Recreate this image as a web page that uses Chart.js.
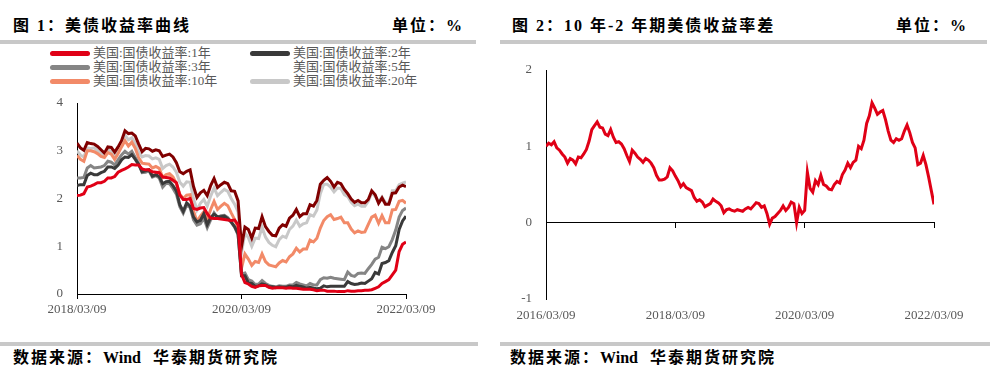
<!DOCTYPE html>
<html>
<head>
<meta charset="utf-8">
<script src="https://cdn.jsdelivr.net/npm/chart.js@4.4.0/dist/chart.umd.min.js"></script>
<style>
  body { margin: 0; background: #fff; width: 995px; height: 376px; position: relative; overflow: hidden;
         font-family: "Liberation Serif", "Noto Sans CJK SC", serif; }
  .title { position: absolute; top: 16px; line-height: 20px; font-size: 16px; font-weight: 600; color: #000; letter-spacing: 2px; white-space: nowrap; }
  .foot { position: absolute; top: 348px; line-height: 20px; font-size: 16px; font-weight: 600; color: #000; letter-spacing: 2px; white-space: nowrap; }
  .foot span { letter-spacing: 0; }
  .bar { position: absolute; height: 4px; background: #c8c8c8; }
  .leg { position: absolute; font-size: 13px; line-height: 14px; color: #595959; white-space: nowrap; }
  .sw { position: absolute; width: 40px; height: 5px; border-radius: 3px; }
  canvas { position: absolute; }
</style>
</head>
<body>
<div class="title" style="left:13px">图 1：美债收益率曲线</div>
<div class="title" style="left:392px">单位：%</div>
<div class="bar" style="left:0;top:40px;width:476px"></div>
<div id="legend1"></div>
<canvas id="yieldChart" width="480" height="240" style="left:0;top:90px"></canvas>
<div class="bar" style="left:0;top:342px;width:478px"></div>
<div class="foot" style="left:13px">数据来源：<span>Wind</span>&nbsp;&nbsp;华泰期货研究院</div>

<div class="title" style="left:512px">图 2：10 年-2 年期美债收益率差</div>
<div class="title" style="left:896px">单位：%</div>
<div class="bar" style="left:500px;top:40px;width:487px"></div>
<canvas id="spreadChart" width="495" height="275" style="left:500px;top:55px"></canvas>
<div class="bar" style="left:500px;top:342px;width:490px"></div>
<div class="foot" style="left:510px">数据来源：<span>Wind</span>&nbsp;&nbsp;华泰期货研究院</div>

<script>
// half-month dates, 09 and 24 of every month
function halfMonthDates(year, month, count) {
    let out = [];
    for (let k = 0; k < count; k++) {
        let m = month - 1 + Math.floor(k / 2);
        let yy = year + Math.floor(m / 12);
        let mm = m % 12 + 1;
        out.push(yy + "/" + String(mm).padStart(2, "0") + "/" + (k % 2 ? "24" : "09"));
    }
    return out;
}

const yieldDates = halfMonthDates(2018, 3, 97);
const spreadDates = halfMonthDates(2016, 3, 145);
const yieldTickLabels = ["2018/03/09", "2020/03/09", "2022/03/09"];
const spreadTickLabels = ["2016/03/09", "2018/03/09", "2020/03/09", "2022/03/09"];

// US treasury yields, %
const yield1Y = [2.06,2.07,2.10,2.24,2.26,2.29,2.33,2.33,2.36,2.43,2.43,2.46,2.55,2.59,2.62,2.66,2.71,2.70,2.70,2.62,
    2.60,2.60,2.56,2.55,2.54,2.45,2.44,2.43,2.38,2.33,2.07,1.98,1.98,2.00,1.79,1.77,1.80,1.81,1.68,1.59,1.58,1.58,1.57,1.56,
    1.55,1.54,1.55,1.45,0.41,0.24,0.21,0.16,0.14,0.17,0.18,0.18,0.14,0.12,0.13,0.13,0.13,0.12,0.13,0.12,0.12,0.11,0.10,0.10,
    0.10,0.09,0.07,0.08,0.08,0.06,0.06,0.06,0.05,0.05,0.05,0.07,0.06,0.06,0.07,0.07,0.08,0.08,0.09,0.12,0.15,0.22,0.26,0.30,
    0.40,0.50,0.89,1.04,1.09];
const yield2Y = [2.27,2.29,2.29,2.48,2.53,2.50,2.50,2.54,2.57,2.66,2.66,2.63,2.70,2.81,2.87,2.86,2.92,2.82,2.71,2.56,
    2.58,2.60,2.47,2.50,2.46,2.31,2.35,2.36,2.27,2.16,1.87,1.73,1.91,1.84,1.61,1.51,1.54,1.68,1.45,1.60,1.67,1.62,1.62,1.63,
    1.58,1.51,1.41,1.26,0.38,0.38,0.23,0.22,0.16,0.17,0.21,0.19,0.15,0.15,0.13,0.15,0.14,0.14,0.16,0.15,0.18,0.16,0.15,0.12,
    0.14,0.12,0.11,0.12,0.17,0.15,0.16,0.16,0.16,0.16,0.16,0.26,0.22,0.20,0.21,0.23,0.22,0.27,0.32,0.45,0.42,0.64,0.66,0.70,
    0.87,1.01,1.35,1.53,1.63];
const yield3Y = [2.43,2.43,2.44,2.64,2.69,2.64,2.65,2.66,2.69,2.78,2.76,2.70,2.81,2.91,2.99,2.93,2.99,2.86,2.73,2.54,
    2.55,2.58,2.45,2.48,2.43,2.24,2.32,2.31,2.21,2.09,1.83,1.69,1.86,1.81,1.55,1.44,1.47,1.59,1.39,1.55,1.70,1.60,1.64,1.65,
    1.60,1.50,1.40,1.24,0.42,0.44,0.30,0.27,0.20,0.21,0.28,0.22,0.18,0.16,0.15,0.17,0.16,0.16,0.19,0.19,0.24,0.21,0.19,0.17,
    0.22,0.19,0.19,0.30,0.34,0.33,0.35,0.33,0.32,0.31,0.30,0.46,0.39,0.37,0.43,0.44,0.43,0.53,0.62,0.73,0.77,0.98,0.95,0.99,
    1.14,1.34,1.61,1.75,1.80];
const yield10Y = [2.90,2.82,2.78,3.00,3.00,2.98,2.94,2.88,2.86,2.96,2.93,2.82,2.94,3.08,3.21,3.10,3.18,3.05,2.85,2.74,
    2.73,2.72,2.64,2.67,2.63,2.44,2.50,2.52,2.45,2.32,2.09,2.00,2.07,2.08,1.74,1.52,1.63,1.72,1.56,1.77,1.94,1.77,1.84,1.90,
    1.85,1.70,1.56,1.38,0.54,0.84,0.73,0.60,0.68,0.66,0.84,0.68,0.61,0.59,0.57,0.65,0.70,0.67,0.78,0.84,0.96,0.88,0.94,0.94,
    1.13,1.09,1.17,1.38,1.54,1.62,1.66,1.56,1.58,1.61,1.49,1.49,1.36,1.28,1.32,1.29,1.30,1.46,1.61,1.65,1.48,1.64,1.49,1.49,
    1.76,1.77,1.94,1.96,1.90];
const yield20Y = [3.00,2.91,2.87,3.06,3.05,3.06,3.00,2.94,2.89,3.02,2.98,2.88,3.00,3.15,3.33,3.23,3.27,3.16,2.97,2.87,
    2.90,2.89,2.83,2.85,2.82,2.63,2.69,2.72,2.66,2.55,2.34,2.26,2.35,2.34,2.00,1.76,1.90,1.98,1.84,2.05,2.22,2.06,2.13,2.19,
    2.15,2.00,1.88,1.72,0.87,1.28,1.18,1.00,1.17,1.16,1.40,1.19,1.08,1.02,0.99,1.14,1.21,1.18,1.35,1.42,1.55,1.42,1.47,1.49,
    1.66,1.63,1.76,2.10,2.30,2.30,2.24,2.14,2.22,2.21,2.08,2.04,1.92,1.85,1.88,1.84,1.84,1.94,2.12,2.05,1.93,2.03,1.91,1.90,
    2.16,2.16,2.29,2.32,2.35];
const yield30Y = [3.16,3.06,3.01,3.17,3.15,3.14,3.09,3.02,2.95,3.08,3.07,2.97,3.08,3.21,3.42,3.36,3.37,3.31,3.14,2.98,
    3.05,3.04,2.99,3.02,3.00,2.88,2.91,2.93,2.87,2.75,2.56,2.52,2.57,2.60,2.25,2.02,2.12,2.17,2.06,2.27,2.42,2.23,2.29,2.34,
    2.31,2.16,2.15,1.95,0.99,1.40,1.35,1.17,1.38,1.37,1.62,1.41,1.31,1.23,1.22,1.38,1.45,1.42,1.59,1.65,1.77,1.62,1.68,1.68,
    1.87,1.84,1.96,2.30,2.38,2.44,2.36,2.24,2.34,2.31,2.19,2.10,1.99,1.92,1.96,1.91,1.91,1.98,2.16,2.08,1.90,2.01,1.88,1.88,
    2.11,2.12,2.24,2.28,2.25];

// 10Y - 2Y spread, %
const spread10y2y = [1.00,1.04,1.02,1.06,0.98,0.95,0.90,0.86,0.78,0.84,0.82,0.77,0.86,0.85,0.90,0.96,1.07,1.22,1.27,1.32,
    1.25,1.24,1.16,1.14,1.22,1.12,1.05,1.06,1.03,0.97,0.88,0.80,0.95,0.91,0.86,0.83,0.79,0.84,0.82,0.78,0.72,0.62,0.56,0.56,
    0.57,0.60,0.72,0.68,0.61,0.55,0.47,0.51,0.46,0.44,0.42,0.33,0.28,0.30,0.27,0.21,0.23,0.25,0.31,0.28,0.26,0.22,0.13,0.17,
    0.18,0.16,0.15,0.17,0.16,0.15,0.18,0.20,0.18,0.22,0.26,0.25,0.20,0.22,0.12,-0.02,0.06,0.08,0.12,0.16,0.22,0.16,0.20,0.27,
    0.25,0.00,0.20,0.12,0.16,0.66,0.45,0.40,0.55,0.50,0.62,0.50,0.48,0.44,0.43,0.50,0.54,0.52,0.63,0.69,0.78,0.72,0.79,0.82,
    1.00,0.97,1.08,1.30,1.40,1.57,1.50,1.42,1.45,1.47,1.35,1.20,1.08,1.05,1.10,1.08,1.10,1.20,1.28,1.18,1.05,0.98,0.76,0.78,
    0.88,0.76,0.60,0.42,0.24];

// legend as printed in the report (5年 has no visible swatch)
const legendNames = ["美国:国债收益率:1年", "美国:国债收益率:2年", "美国:国债收益率:3年",
    "美国:国债收益率:5年", "美国:国债收益率:10年", "美国:国债收益率:20年"];
const legendColors = ["#e00016", "#3a3a3a", "#858585", "transparent", "#f28a68", "#c8c8c8"];

let legendBox = document.querySelector("#legend1");
legendNames.forEach((name, i) => {
    let col = i % 2;
    let row = Math.floor(i / 2);
    let x = col == 0 ? 50 : 250;
    let y = 46 + row * 14;
    legendBox.innerHTML += '<div class="sw" style="left:' + x + 'px;top:' + (y + 5) + 'px;background:' + legendColors[i] + '"></div>' +
        '<div class="leg" style="left:' + (x + 43) + 'px;top:' + y + 'px">' + name + '</div>';
});

const tickFont = { family: "'Liberation Serif', 'Noto Sans CJK SC', serif", size: 13 };
const tickColor = "#595959";

function onlyTicks(labels, wanted) {
    return scale => {
        scale.ticks = wanted.map(l => ({ value: labels.indexOf(l) }));
    };
}

// y axis: fixed width, and no extra vertical padding from tick padding
function fixY(width) {
    return scale => {
        scale.width = width;
        scale.paddingTop = 0;
        scale.paddingBottom = 0;
    };
}

function line(data, color, order) {
    return { data: data, borderColor: color, borderWidth: 3, pointRadius: 0, tension: 0, fill: false, order: order };
}

// chart 1: yield curves
new Chart(document.querySelector("#yieldChart").getContext("2d"), {
    type: "line",
    data: {
        labels: yieldDates,
        datasets: [
            line(yield1Y, "#e00016", 1),
            line(yield2Y, "#3a3a3a", 2),
            line(yield3Y, "#858585", 3),
            line(yield10Y, "#f28a68", 4),
            line(yield20Y, "#c8c8c8", 6),
            line(yield30Y, "#800000", 5)
        ]
    },
    options: {
        responsive: false,
        animation: false,
        devicePixelRatio: 1,
        layout: { padding: { left: 0, top: 13, right: 74, bottom: 6 } },
        plugins: { legend: { display: false }, tooltip: { enabled: false } },
        scales: {
            x: {
                type: "category",
                min: 0, max: yieldDates.length - 1,
                afterBuildTicks: onlyTicks(yieldDates, yieldTickLabels),
                afterFit: s => { s.height = 30; },
                grid: { display: true, drawOnChartArea: false, drawTicks: true, tickLength: 5, color: "#000" },
                border: { display: true, color: "#000", width: 1 },
                ticks: { autoSkip: false, maxRotation: 0, minRotation: 0, padding: 3, font: tickFont, color: tickColor }
            },
            y: {
                min: 0, max: 4,
                afterFit: fixY(77),
                grid: { display: false, drawTicks: false },
                border: { display: true, color: "#000", width: 1 },
                ticks: { stepSize: 1, padding: 14, font: tickFont, color: tickColor }
            }
        }
    }
});

// chart 2: 10Y-2Y spread
new Chart(document.querySelector("#spreadChart").getContext("2d"), {
    type: "line",
    data: {
        labels: spreadDates,
        datasets: [line(spread10y2y, "#e00016", 0)]
    },
    options: {
        responsive: false,
        animation: false,
        devicePixelRatio: 1,
        layout: { padding: { left: 0, top: 15, right: 61, bottom: 1 } },
        plugins: { legend: { display: false }, tooltip: { enabled: false } },
        scales: {
            x: {
                type: "category",
                position: { y: 0 },
                min: 0, max: spreadDates.length - 1,
                afterBuildTicks: onlyTicks(spreadDates, spreadTickLabels),
                grid: { display: true, drawOnChartArea: false, drawTicks: true, tickLength: 5, color: "#000" },
                border: { display: true, color: "#000", width: 1 },
                ticks: { display: false }
            },
            x2: {
                type: "category",
                position: "bottom",
                labels: spreadDates,
                min: 0, max: spreadDates.length - 1,
                afterBuildTicks: onlyTicks(spreadDates, spreadTickLabels),
                afterFit: s => { s.height = 30; },
                grid: { display: false, drawTicks: false },
                border: { display: false },
                ticks: { autoSkip: false, maxRotation: 0, minRotation: 0, padding: 9, font: tickFont, color: tickColor }
            },
            y: {
                min: -1, max: 2,
                afterFit: fixY(46),
                grid: { display: false, drawTicks: false },
                border: { display: true, color: "#000", width: 1 },
                ticks: { stepSize: 1, padding: 14, font: tickFont, color: tickColor }
            }
        }
    }
});
</script>
</body>
</html>
